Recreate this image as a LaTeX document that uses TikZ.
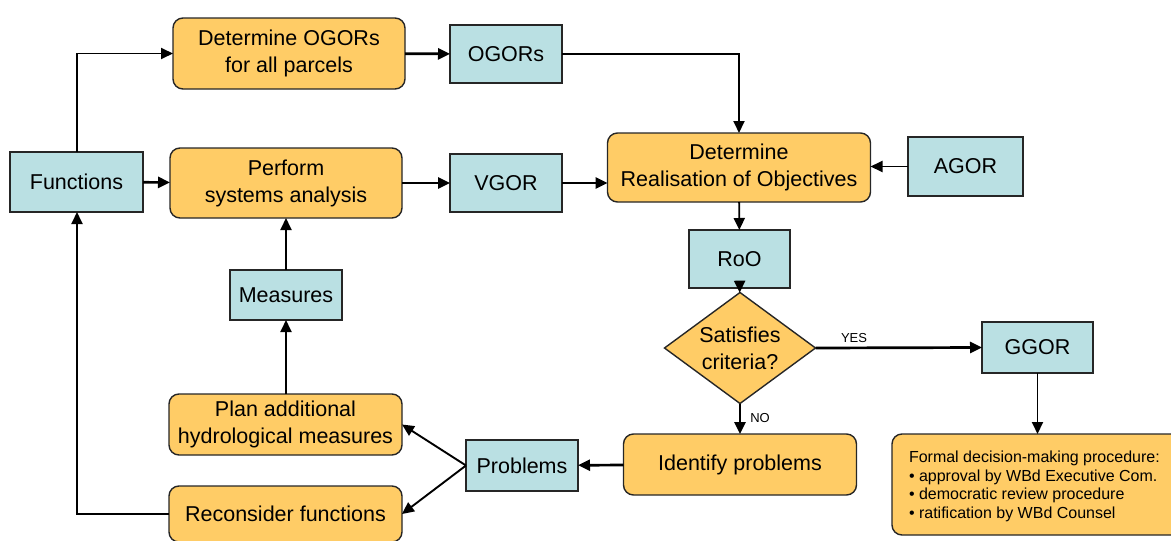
\documentclass[tikz,border=0pt]{standalone}
\usepackage{fontspec}
\setmainfont{Liberation Sans}
\usetikzlibrary{shapes.geometric,arrows.meta}
\definecolor{procfill}{HTML}{FFCC66}
\definecolor{datafill}{HTML}{BAE0E3}
\begin{document}
\begin{tikzpicture}[x=1pt,y=-1pt,
  every node/.style={inner sep=0pt,outer sep=0pt,font=\fontsize{21.5}{27}\selectfont,align=center},
  proc/.style={draw=black!85,line width=1.4pt,fill=procfill,rounded corners=10pt},
  data/.style={draw=black!85,line width=1.4pt,fill=datafill},
  arr/.style={line width=2.7pt,-{Triangle[length=12pt,width=11pt]}},
  thin arr/.style={line width=1.9pt,-{Triangle[length=12pt,width=11pt]}},
  lbl/.style={font=\fontsize{13}{15}\selectfont}]
\useasboundingbox (0,0) rectangle (1171,541);
\clip (0,0) rectangle (1171,541);
% nodes
\node[proc,minimum width=232pt,minimum height=71pt] (detogor) at (289,53.5) {Determine OGORs\\for all parcels};
\node[data,minimum width=112pt,minimum height=58pt] (ogors) at (506,54) {OGORs};
\node[data,minimum width=133pt,minimum height=60pt] (func) at (76.5,182) {Functions};
\node[proc,minimum width=232pt,minimum height=70pt] (perform) at (286,183) {Perform\\systems analysis};
\node[data,minimum width=112pt,minimum height=58pt] (vgor) at (506,183) {VGOR};
\node[proc,minimum width=263pt,minimum height=69pt] (detroo) at (739,167.5) {Determine\\Realisation of Objectives};
\node[data,minimum width=115pt,minimum height=59pt] (agor) at (965.5,166.5) {AGOR};
\node[data,minimum width=101pt,minimum height=58pt] (roo) at (739.5,259) {RoO};
\node[proc,diamond,rounded corners=0pt,minimum width=151pt,minimum height=111pt,aspect=1.36] (sat) at (740,348) {Satisfies\\criteria?};
\node[data,minimum width=111pt,minimum height=51pt] (ggor) at (1037.5,347.5) {GGOR};
\node[proc,minimum width=300pt,minimum height=101pt] (formal) at (1042,484.5) {};
\node[anchor=north west,align=left,font=\fontsize{16}{18.6}\selectfont] (formtext) at (909,451)
  {Formal decision-making procedure:\\
   \textbullet\ approval by WBd Executive Com.\\
   \textbullet\ democratic review procedure\\
   \textbullet\ ratification by WBd Counsel};
\node[proc,minimum width=233pt,minimum height=61pt] (ident) at (740,464.5) {Identify problems};
\node[data,minimum width=112pt,minimum height=51pt] (probs) at (522,465.5) {Problems};
\node[proc,minimum width=233pt,minimum height=61pt] (plan) at (285.5,424.5) {Plan additional\\hydrological measures};
\node[proc,minimum width=233pt,minimum height=56pt] (recon) at (285.5,514) {Reconsider functions};
\node[data,minimum width=112pt,minimum height=50pt] (meas) at (286,295) {Measures};
% labels
\node[lbl] (yes) at (854,338) {YES};
\node[lbl] (no) at (760,418) {NO};
% connectors
\draw[thin arr] (func.north -| 77,0) |- (detogor.west);
\draw[arr] (detogor) -- (ogors);
\draw[thin arr] (ogors.east) -| (detroo.north);
\draw[arr] (func) -- (perform);
\draw[arr] (perform) -- (vgor);
\draw[arr] (vgor) -- (detroo.west |- vgor);
\draw[thin arr] (agor) -- (detroo.east |- agor);
\draw[thin arr] (detroo) -- (roo);
\draw[thin arr] (roo) -- (sat);
\draw[arr] (sat.east) -- (ggor.west);
\draw[arr] (sat.south) -- (ident.north);
\draw[thin arr] (ggor.south) -- (ggor.south |- formal.north);
\draw[arr] (ident) -- (probs);
\draw[thin arr] (probs.west) -- (plan.east);
\draw[thin arr] (probs.west) -- (recon.east);
\draw[thin arr] (plan.north -| meas) -- (meas.south);
\draw[thin arr] (meas.north) -- (perform.south -| meas);
\draw[thin arr] (recon.west) -| (func.south -| 77,0);
\end{tikzpicture}
\end{document}
